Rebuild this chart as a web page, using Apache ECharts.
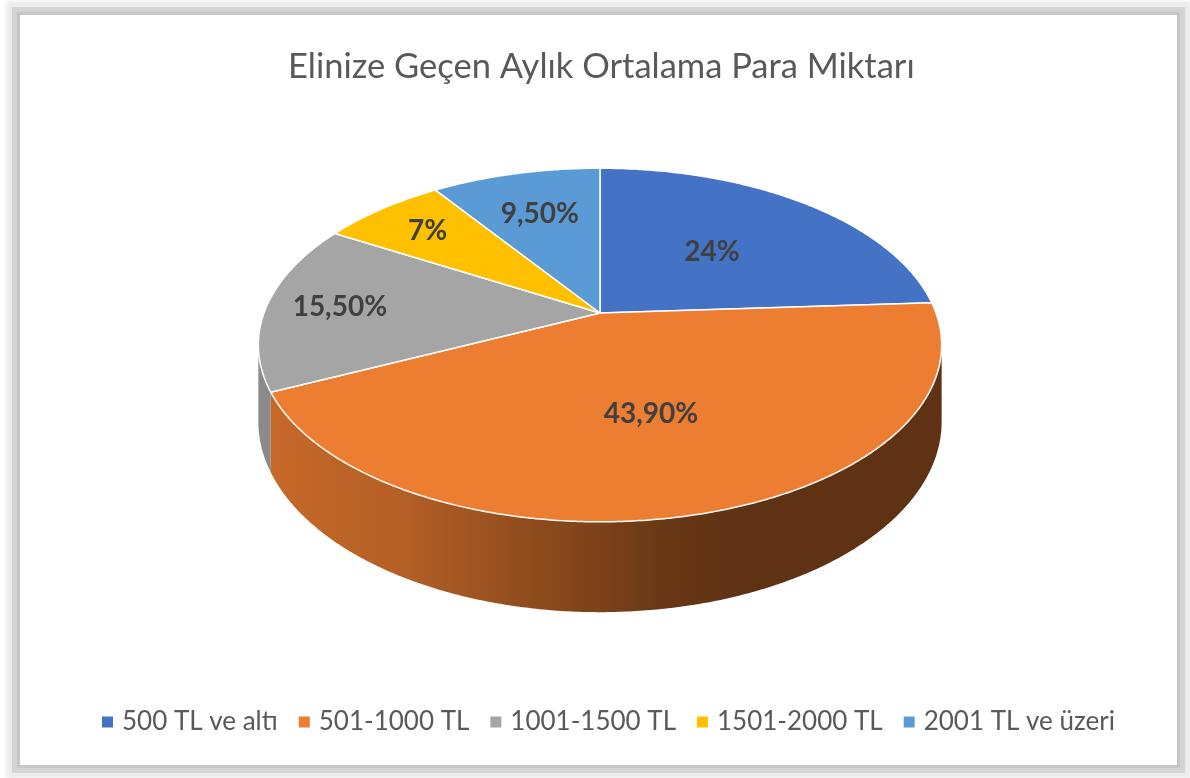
<!DOCTYPE html>
<html>
<head>
<meta charset="utf-8">
<script src="https://cdn.jsdelivr.net/npm/echarts@6/dist/echarts.min.js"></script>
<style>
html,body{margin:0;padding:0;background:#fff;width:1190px;height:778px;overflow:hidden;}
#frame{position:absolute;left:20px;top:15px;width:1157px;height:750px;background:#fff;
 box-shadow:0 0 0 3px #c6c6c6,0 0 0 8px #d4d4d4,0 0 4px 14px #ececec;}
#chart{position:absolute;left:0;top:0;width:1190px;height:778px;}
</style>
</head>
<body>
<div id="frame"></div>
<div id="chart"></div>
<script>
// ---- data ----
const categories = ['500 TL ve altı', '501-1000 TL', '1001-1500 TL', '1501-2000 TL', '2001 TL ve üzeri'];
const values = [24, 43.9, 15.5, 7, 9.5];
const colors = ['#4472C4', '#ED7D31', '#A5A5A5', '#FFC000', '#5B9BD5'];
const titleText = 'Elinize Geçen Aylık Ortalama Para Miktarı';

// ---- layout (3D pie projection) ----
const layout = {
  cx: 600, cy: 313,   // apex of slices
  rx: 336, ry: 171,   // radii of the top disc
  persp: 0.181,       // perspective strength
  depth: 74,          // thickness
  labelRadius: [0.52, 0.55, 0.78, 0.77, 0.68],
  sideGradX: [270, 740]
};

const total = values.reduce((a, b) => a + b, 0);
const starts = [];
values.reduce((acc, v, i) => { starts[i] = acc; return acc + v; }, 0);

function proj(theta, r) {
  const u = r * Math.sin(theta), v = -r * Math.cos(theta);
  const s = 1 / (1 - layout.persp * v);
  return { x: layout.cx + layout.rx * u * s, y: layout.cy + layout.ry * v * s, s: s };
}
function shade(hex, f) {
  const n = parseInt(hex.slice(1), 16);
  const r = Math.round(((n >> 16) & 255) * f), g = Math.round(((n >> 8) & 255) * f), b = Math.round((n & 255) * f);
  return 'rgb(' + r + ',' + g + ',' + b + ')';
}
function fmt(v) {
  return (Number.isInteger(v) ? String(v) : v.toFixed(2).replace('.', ',')) + '%';
}

const silA = Math.acos(-layout.persp), silB = 2 * Math.PI - silA;

function makeRender(i) {
  return function (params, api) {
    const val = api.value(0);
    const a0 = starts[i] / total * 2 * Math.PI;
    const a1 = (starts[i] + val) / total * 2 * Math.PI;
    const color = colors[i];
    const children = [];
    const step = Math.PI / 360;
    // side wall
    const s0 = Math.max(a0, silA), s1 = Math.min(a1, silB);
    if (s1 > s0) {
      const top = [], bot = [];
      for (let t = s0; t < s1; t += step) {
        const p = proj(t, 1);
        top.push([p.x, p.y]); bot.push([p.x, p.y + layout.depth * p.s]);
      }
      const pe = proj(s1, 1);
      top.push([pe.x, pe.y]); bot.push([pe.x, pe.y + layout.depth * pe.s]);
      const pts = top.concat(bot.reverse());
      children.push({
        type: 'polygon',
        shape: { points: pts },
        style: {
          fill: new echarts.graphic.LinearGradient(layout.sideGradX[0], 0, layout.sideGradX[1], 0, [
            { offset: 0, color: shade(color, 0.84) },
            { offset: 0.3, color: shade(color, 0.75) },
            { offset: 0.6, color: shade(color, 0.58) },
            { offset: 0.85, color: shade(color, 0.44) },
            { offset: 1, color: shade(color, 0.40) }
          ], true),
          stroke: null
        }
      });
    }
    // top face
    const tpts = [[layout.cx, layout.cy]];
    for (let t = a0; t < a1; t += step) { const p = proj(t, 1); tpts.push([p.x, p.y]); }
    const pe = proj(a1, 1); tpts.push([pe.x, pe.y]);
    children.push({
      type: 'polygon',
      shape: { points: tpts },
      style: { fill: color, stroke: '#ffffff', lineWidth: 1.5, lineJoin: 'round' }
    });
    // label
    const lp = proj((a0 + a1) / 2, layout.labelRadius[i]);
    children.push({
      type: 'text',
      style: {
        text: fmt(val), x: lp.x, y: lp.y,
        align: 'center', verticalAlign: 'middle',
        textAlign: 'center', textVerticalAlign: 'middle',
        font: 'bold 28px Lato', fill: '#404040'
      }
    });
    return { type: 'group', children: children };
  };
}

const chart = echarts.init(document.getElementById('chart'), null, { renderer: 'canvas' });
chart.setOption({
  animation: false,
  title: {
    text: titleText, left: 283, top: 44,
    textStyle: { fontFamily: 'Lato', fontSize: 34.5, fontWeight: 'normal', color: '#595959' }
  },
  legend: {
    data: categories, left: 97, top: 704,
    icon: 'rect', itemWidth: 11, itemHeight: 11, itemGap: 21,
    textStyle: { fontFamily: 'Lato', fontSize: 26, color: '#595959', padding: [0, 0, 0, 4] }
  },
  series: categories.map((name, i) => ({
    type: 'custom', name: name, coordinateSystem: 'none',
    itemStyle: { color: colors[i] },
    renderItem: makeRender(i),
    data: [[values[i]]]
  }))
});
</script>
</body>
</html>
